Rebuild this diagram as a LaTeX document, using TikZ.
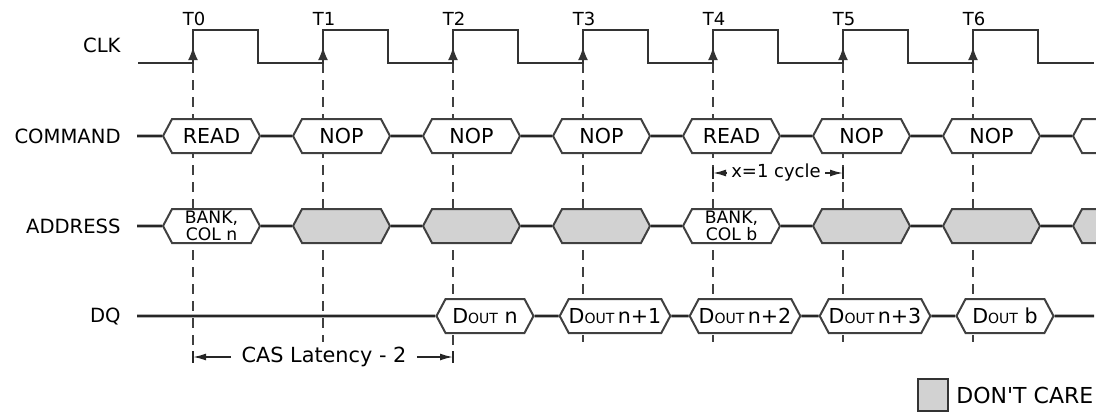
\documentclass[tikz,border=0pt]{standalone}
\usepackage{fontspec}
\setmainfont{DejaVu Sans}
\usetikzlibrary{arrows.meta, positioning, shapes.symbols, backgrounds}

\newcommand{\dout}{D{\fontsize{7}{8}\selectfont OUT}}

\begin{document}
\begin{tikzpicture}[
        x=0.5pt, y=-0.5pt,
        >={Latex[length=6.5pt, width=3.5pt]},
        signame/.style={
            anchor=east,
            inner sep=0pt,
            font=\fontsize{9.8}{11}\selectfont
        },
        edgename/.style={
            inner sep=0pt,
            font=\fontsize{9}{10}\selectfont
        },
        wave/.style={
            draw=black!80,
            line width=1pt
        },
        edge/.style={
            wave,
            -{Latex[length=6.5pt, width=5pt]}
        },
        bus/.style={
            draw=black!85,
            line width=1.4pt
        },
        hexbox/.style={
            signal,
            signal to=west and east,
            signal pointer angle=124,
            minimum width=48.5pt,
            minimum height=17pt,
            inner sep=0pt,
            draw=black!75,
            line width=1pt,
            fill=white,
            font=\fontsize{10.3}{11}\selectfont
        },
        dontcare/.style={
            hexbox,
            fill=gray!35
        },
        addrbox/.style={
            hexbox,
            align=center,
            font=\fontsize{8.6}{8.4}\selectfont
        },
        guide/.style={
            draw=black!75,
            line width=0.8pt,
            dash pattern=on 5pt off 3.5pt
        },
        span/.style={
            draw=black!85,
            line width=0.8pt
        },
        note/.style={
            inner sep=2pt,
            font=\fontsize{10.4}{12}\selectfont
        }
    ]

    \clip (0,0) rectangle (1096,412);

    % signal names
    \node (clkname) [signame] at (121,45) {CLK};
    \node (cmdname) [signame] at (121,136) {COMMAND};
    \node (adrname) [signame] at (121,226) {ADDRESS};
    \node (dqname) [signame] at (121,316) {DQ};

    % clock
    \draw [wave] (138,63) -| (193,30) -| (258,63) -| (323,30) -| (388,63) -| (453,30) -| (518,63) -| (583,30)
        -| (648,63) -| (713,30) -| (778,63) -| (843,30) -| (908,63) -| (973,30) -| (1038,63) -- (1094,63);

    \coordinate (t0) at (193,63);
    \coordinate (t1) at (323,63);
    \coordinate (t2) at (453,63);
    \coordinate (t3) at (583,63);
    \coordinate (t4) at (713,63);
    \coordinate (t5) at (843,63);
    \coordinate (t6) at (973,63);

    \node (T0) [edgename] at (194,19) {T0};
    \node (T1) [edgename] at (324,19) {T1};
    \node (T2) [edgename] at (454,19) {T2};
    \node (T3) [edgename] at (584,19) {T3};
    \node (T4) [edgename] at (714,19) {T4};
    \node (T5) [edgename] at (844,19) {T5};
    \node (T6) [edgename] at (974,19) {T6};

    \draw [edge] (t0) -- ++(0,-16);
    \draw [edge] (t1) -- ++(0,-16);
    \draw [edge] (t2) -- ++(0,-16);
    \draw [edge] (t3) -- ++(0,-16);
    \draw [edge] (t4) -- ++(0,-16);
    \draw [edge] (t5) -- ++(0,-16);
    \draw [edge] (t6) -- ++(0,-16);

    \begin{scope}[on background layer]
        \draw [guide] (t0) -- ++(0,299);
        \draw [guide] (t1) -- ++(0,279);
        \draw [guide] (t2) -- ++(0,299);
        \draw [guide] (t3) -- ++(0,279);
        \draw [guide] (t4) -- ++(0,279);
        \draw [guide] (t5) -- ++(0,279);
        \draw [guide] (t6) -- ++(0,279);
    \end{scope}

    % command
    \coordinate (cmdin) at (137,136);
    \node (cmd0) [hexbox] at (211.5,136) {READ};
    \node (cmd1) [hexbox] at (341.5,136) {NOP};
    \node (cmd2) [hexbox] at (471.5,136) {NOP};
    \node (cmd3) [hexbox] at (601.5,136) {NOP};
    \node (cmd4) [hexbox] at (731.5,136) {READ};
    \node (cmd5) [hexbox] at (861.5,136) {NOP};
    \node (cmd6) [hexbox] at (991.5,136) {NOP};
    \node (cmd7) [hexbox] at (1121.5,136) {};

    \draw [bus] (cmdin) -- (cmd0) (cmd0) -- (cmd1) (cmd1) -- (cmd2) (cmd2) -- (cmd3)
        (cmd3) -- (cmd4) (cmd4) -- (cmd5) (cmd5) -- (cmd6) (cmd6) -- (cmd7);

    % address
    \coordinate (adrin) at (137,226);
    \node (adr0) [addrbox] at (211.5,226) {BANK,\\COL n};
    \node (adr1) [dontcare] at (341.5,226) {};
    \node (adr2) [dontcare] at (471.5,226) {};
    \node (adr3) [dontcare] at (601.5,226) {};
    \node (adr4) [addrbox] at (731.5,226) {BANK,\\COL b};
    \node (adr5) [dontcare] at (861.5,226) {};
    \node (adr6) [dontcare] at (991.5,226) {};
    \node (adr7) [dontcare] at (1121.5,226) {};

    \draw [bus] (adrin) -- (adr0) (adr0) -- (adr1) (adr1) -- (adr2) (adr2) -- (adr3)
        (adr3) -- (adr4) (adr4) -- (adr5) (adr5) -- (adr6) (adr6) -- (adr7);

    % data out
    \coordinate (dqin) at (137,316);
    \coordinate (dqout) at (1094,316);
    \node (dq2) [hexbox] at (485,316) {\dout{} n};
    \node (dq3) [hexbox] at (615,316) {\dout\,n+1};
    \node (dq4) [hexbox] at (745,316) {\dout\,n+2};
    \node (dq5) [hexbox] at (875,316) {\dout\,n+3};
    \node (dq6) [hexbox] at (1005,316) {\dout{} b};

    \draw [bus] (dqin) -- (dq2) (dq2) -- (dq3) (dq3) -- (dq4) (dq4) -- (dq5) (dq5) -- (dq6) (dq6) -- (dqout);

    % timing spans
    \coordinate (cyc4) at (713,173);
    \coordinate (cyc5) at (843,173);
    \node (cycle) [note, font=\fontsize{9}{10}\selectfont] at (776,173) {x=1 cycle};
    \draw [span, ->] (cycle) -- (cyc4);
    \draw [span, ->] (cycle) -- (cyc5);
    \draw [span] (cyc4) ++(0,-6) -- ++(0,12);
    \draw [span] (cyc5) ++(0,-6) -- ++(0,12);

    \coordinate (cas0) at (193,357);
    \coordinate (cas2) at (453,357);
    \node (cas) [note, inner sep=5pt] at (324,357) {CAS Latency - 2};
    \draw [span, ->] (cas) -- (cas0);
    \draw [span, ->] (cas) -- (cas2);
    \draw [span] (cas0) ++(0,-6) -- ++(0,12);
    \draw [span] (cas2) ++(0,-6) -- ++(0,12);

    % legend
    \node (legbox) [draw=black!80, line width=1.4pt, fill=gray!35, minimum width=15pt, minimum height=16pt, inner sep=0pt] at (933,395) {};
    \node (legtext) [right=0pt of legbox, font=\fontsize{11}{13}\selectfont] {DON\textquotesingle T CARE};

\end{tikzpicture}
\end{document}
